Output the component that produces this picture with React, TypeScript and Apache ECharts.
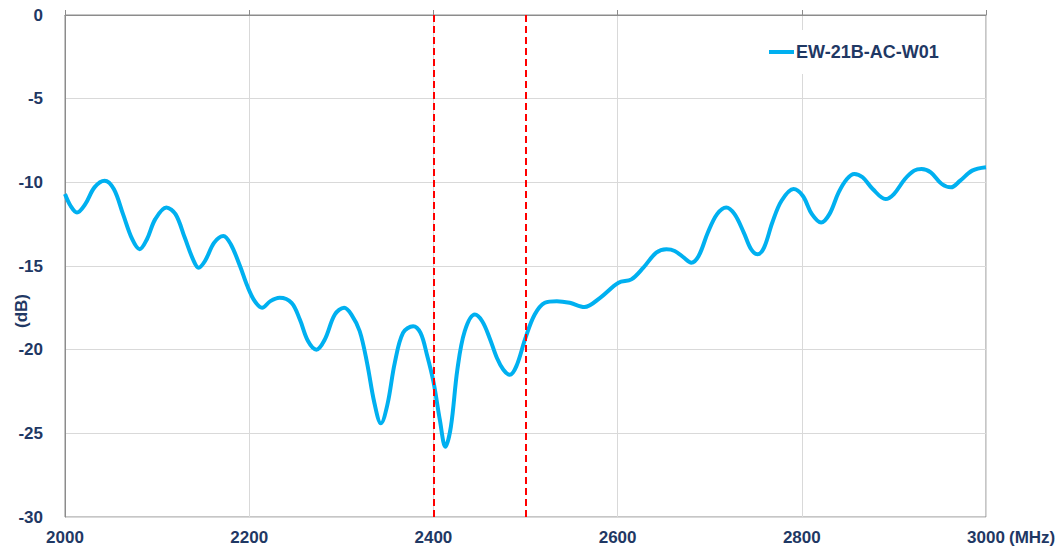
import React, { useEffect, useRef } from "react";
import * as echarts from "echarts";

const seriesName = "EW-21B-AC-W01";
const freqMHz = [
  2000, 2006, 2013, 2022, 2032, 2043, 2053, 2063, 2073, 2081, 2089, 2098, 2110, 2120, 2130, 2139, 2145,
  2152, 2162, 2172, 2180, 2190, 2198, 2206, 2214, 2223, 2233, 2246, 2255, 2264, 2273, 2282, 2293, 2303,
  2311, 2320, 2328, 2336, 2343, 2350, 2358, 2367, 2378, 2386, 2393, 2400, 2407, 2413, 2419, 2426, 2434,
  2445, 2453, 2461, 2469, 2476, 2483, 2490, 2500, 2510, 2521, 2534, 2548, 2564, 2581, 2601, 2615, 2628,
  2642, 2653, 2662, 2672, 2680, 2688, 2698, 2708, 2718, 2727, 2737, 2745, 2752, 2759, 2768, 2778, 2791,
  2801, 2811, 2821, 2830, 2840, 2849, 2857, 2866, 2877, 2891, 2900, 2912, 2922, 2930, 2940, 2952, 2962,
  2972, 2985, 3000,
];
const returnLossDb = [
  -10.7, -11.4, -11.8, -11.3, -10.3, -9.9, -10.4, -11.9, -13.4, -14.0, -13.4, -12.2, -11.5, -11.9, -13.3, -14.6, -15.1,
  -14.7, -13.6, -13.2, -13.7, -15.0, -16.2, -17.1, -17.5, -17.1, -16.9, -17.2, -18.2, -19.5, -20.0, -19.4, -17.9, -17.5,
  -17.9, -18.9, -20.8, -23.2, -24.4, -23.3, -20.8, -19.0, -18.6, -19.0, -20.3, -21.9, -24.2, -25.8, -24.6, -21.2, -18.9,
  -17.9, -18.3, -19.3, -20.5, -21.2, -21.5, -21.0, -19.3, -17.9, -17.2, -17.1, -17.2, -17.45, -16.9, -16.0, -15.8, -15.1,
  -14.2, -14.0, -14.1, -14.5, -14.8, -14.4, -13.0, -11.9, -11.5, -11.9, -13.0, -14.0, -14.3, -13.9, -12.4, -11.1, -10.4,
  -10.8, -11.9, -12.4, -11.9, -10.6, -9.8, -9.5, -9.7, -10.4, -11.0, -10.7, -9.8, -9.3, -9.2, -9.4, -10.1, -10.3,
  -9.9, -9.3, -9.1,
];
const bandEdgesMHz = [2400, 2500];
const xTicks = { min: 2000, max: 3000, interval: 200 };
const yTicks = { min: -30, max: 0, interval: 5 };
const xName = "(MHz)";
const yName = "(dB)";

const FONT = 'Arial, "Liberation Sans", sans-serif';
const NAVY = "#1F3864";

export default function App() {
  const ref = useRef<HTMLDivElement>(null);
  useEffect(() => {
    if (!ref.current) return;
    const chart = echarts.init(ref.current, undefined, { renderer: "svg" });
    const data = freqMHz.map((f, i) => [f, returnLossDb[i]]);
    chart.setOption({
      animation: false,
      backgroundColor: "#ffffff",
      grid: {
        left: 65,
        top: 15,
        right: 74,
        bottom: 34,
        show: true,
        borderColor: "#8c8c8c",
        borderWidth: 1,
        backgroundColor: "transparent",
      },
      legend: {
        data: [seriesName],
        left: 765,
        top: 30,
        padding: [13, 4, 13, 4],
        backgroundColor: "#ffffff",
        icon: "rect",
        itemWidth: 25,
        itemHeight: 4,
        itemGap: 2,
        textStyle: { color: NAVY, fontFamily: FONT, fontWeight: "bold", fontSize: 18, padding: [0, 0, 0, -3] },
      },
      xAxis: {
        type: "value",
        min: xTicks.min,
        max: xTicks.max,
        interval: xTicks.interval,
        axisLine: { show: true, lineStyle: { color: "#8c8c8c", width: 1 } },
        axisTick: { show: true, inside: true, length: 5, lineStyle: { color: "#8c8c8c" } },
        splitLine: { show: true, lineStyle: { color: "#d9d9d9", width: 1 } },
        axisLabel: {
          color: NAVY,
          fontFamily: FONT,
          fontWeight: "bold",
          fontSize: 17,
          margin: 12,
          formatter: (v: number) => String(v),
        },
      },
      yAxis: {
        type: "value",
        min: yTicks.min,
        max: yTicks.max,
        interval: yTicks.interval,
        axisLine: { show: true, lineStyle: { color: "#8c8c8c", width: 1 } },
        axisTick: { show: false },
        splitLine: { show: true, lineStyle: { color: "#d9d9d9", width: 1 } },
        axisLabel: {
          color: NAVY,
          fontFamily: FONT,
          fontWeight: "bold",
          fontSize: 17,
          margin: 22,
          formatter: (v: number) => String(v),
        },
      },
      graphic: [
        {
          type: "text",
          left: 1009,
          top: 529,
          style: { text: xName, fill: NAVY, font: `bold 17px ${FONT}` },
        },
        {
          type: "text",
          x: 21,
          y: 311,
          rotation: Math.PI / 2,
          style: { text: yName, fill: NAVY, font: `bold 17px ${FONT}`, align: "center", verticalAlign: "middle" },
        },
      ],
      series: [
        {
          name: seriesName,
          type: "line",
          data,
          smooth: 0.35,
          symbol: "none",
          showSymbol: false,
          itemStyle: { color: "#00B0F0" },
          lineStyle: { color: "#00B0F0", width: 4 },
          z: 3,
          markLine: {
            silent: true,
            symbol: ["none", "none"],
            label: { show: false },
            lineStyle: { color: "#FF0000", width: 2, type: [7, 4] },
            data: bandEdgesMHz.map((v) => ({ xAxis: v })),
          },
        },
      ],
    });
    return () => chart.dispose();
  }, []);
  return (
    <div
      ref={ref}
      style={{ position: "fixed", left: 0, top: 0, width: 1060, height: 551, background: "#fff" }}
    />
  );
}
